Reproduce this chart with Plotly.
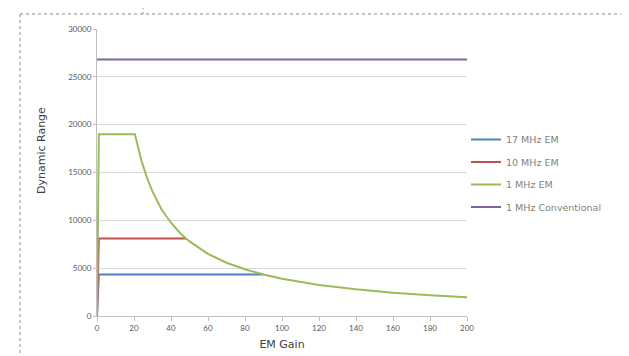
import plotly.graph_objects as go

# ---- data ----
blue_x = [0, 1, 90]
blue_y = [0, 4350, 4350]

red_x = [0, 1, 48]
red_y = [0, 8100, 8100]

green_x = [0, 1, 20.5, 22, 24, 27, 30, 35, 40, 45, 50, 60, 70, 80, 90, 100, 110, 120, 140, 160, 180, 200]
green_y = [0, 19000, 19000, 17700, 16250, 14450, 13000, 11100, 9750, 8650, 7800, 6500, 5570, 4880,
           4330, 3900, 3550, 3250, 2790, 2440, 2170, 1950]

purple_x = [0, 200]
purple_y = [26800, 26800]

series_names = ["17 MHz EM", "10 MHz EM", "1 MHz EM", "1 MHz Conventional"]
series_colors = ["#4F81BD", "#C0504D", "#9BBB59", "#8064A2"]

x_ticks = [0, 20, 40, 60, 80, 100, 120, 140, 160, 180, 200]
y_ticks = [0, 5000, 10000, 15000, 20000, 25000, 30000]

# page body has an 8px margin; figure is sized so it fills the window
OFF = 8
W, H = 629 - OFF, 356 - OFF
PL, PR, PT, PB = 97, 467, 29, 316   # plot area in window pixels
L, R, T, B = PL - OFF, W - (PR - OFF), PT - OFF, H - (PB - OFF)

fig = go.Figure()
for i, (xs, ys, name, col) in enumerate(zip([blue_x, red_x, green_x, purple_x],
                                            [blue_y, red_y, green_y, purple_y],
                                            series_names, series_colors)):
    fig.add_trace(go.Scatter(x=xs, y=ys, mode="lines", name=name, legendgroup=f"g{i}",
                             line=dict(color=col, width=2), cliponaxis=False))

font_fam = "Lato, Open Sans, sans-serif"
tick_font = dict(family=font_fam, size=8, color="#595959")
title_font = dict(family="DejaVu Sans, sans-serif", size=11, color="#404040")


def px_x(p):
    return (p - PL) / (PR - PL)


def px_y(p):
    return (PB - p) / (PB - PT)


dot = dict(color="#8c8c8c", width=1, dash="dot")
shapes = [
    dict(type="line", xref="paper", yref="paper", x0=px_x(20), x1=px_x(624), y0=px_y(14), y1=px_y(14), line=dot),
    dict(type="line", xref="paper", yref="paper", x0=px_x(20), x1=px_x(20), y0=px_y(14), y1=px_y(360), line=dot),
    dict(type="line", xref="paper", yref="paper", x0=px_x(624), x1=px_x(624), y0=px_y(14), y1=px_y(360), line=dot),
    dict(type="line", xref="paper", yref="paper", x0=px_x(143), x1=px_x(143), y0=px_y(6), y1=px_y(14), line=dot),
]

fig.update_layout(
    width=W, height=H,
    margin=dict(l=L, r=R, t=T, b=B, autoexpand=False),
    paper_bgcolor="white", plot_bgcolor="white",
    showlegend=True,
    legend=dict(x=px_x(466), y=px_y(125), xanchor="left", yanchor="top",
                font=dict(family="DejaVu Sans, sans-serif", size=9.5, color="#7f7f7f"),
                tracegroupgap=3.5, bgcolor="rgba(0,0,0,0)"),
    xaxis=dict(range=[0, 200], tickvals=x_ticks, ticktext=[str(v) for v in x_ticks],
               showgrid=False, zeroline=False, showline=True, linecolor="#bfbfbf", linewidth=1,
               ticks="outside", ticklen=4, tickcolor="#bfbfbf", tickfont=tick_font,
               title=dict(text="EM Gain", font=title_font, standoff=8)),
    yaxis=dict(range=[0, 30000], tickvals=y_ticks, ticktext=[str(v) for v in y_ticks],
               showgrid=True, gridcolor="#d9d9d9", gridwidth=1, zeroline=False,
               showline=True, linecolor="#bfbfbf", linewidth=1,
               ticks="outside", ticklen=3, tickcolor="#bfbfbf", tickfont=tick_font),
    annotations=[dict(text="Dynamic Range", xref="paper", yref="paper",
                      x=px_x(41), y=px_y(151), textangle=-90, showarrow=False,
                      xanchor="center", yanchor="middle", font=title_font)],
    shapes=shapes,
)

fig.write_html("out.html")
